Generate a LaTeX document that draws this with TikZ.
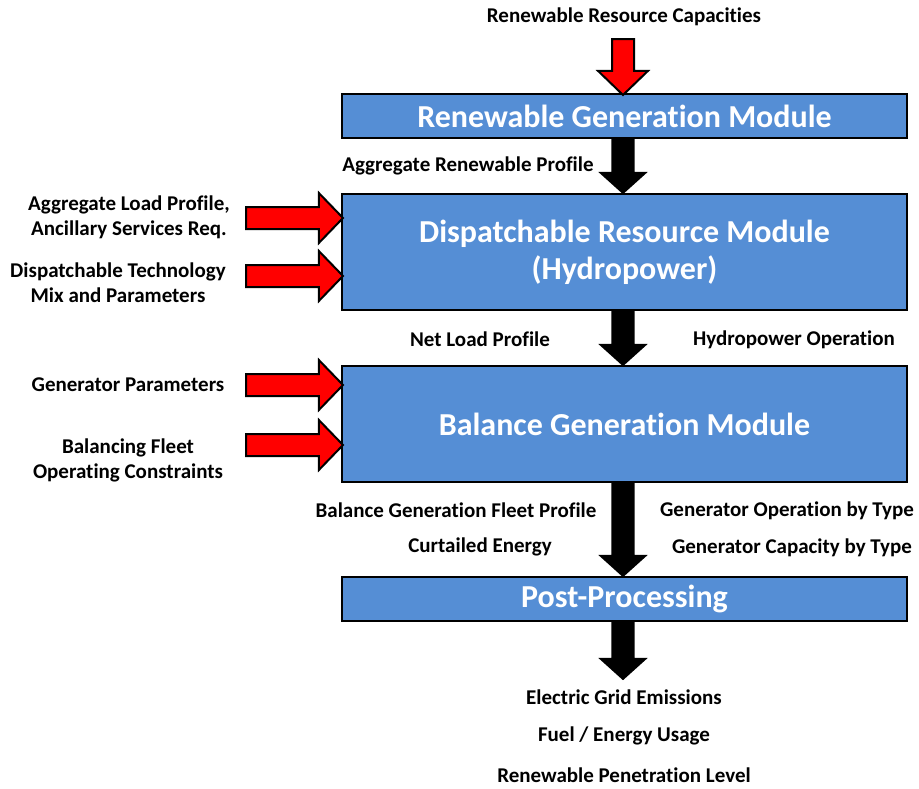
\documentclass[tikz,border=0pt]{standalone}
\usepackage{fontspec}
\setmainfont{Carlito}[Ligatures=NoCommon]
\usetikzlibrary{arrows.meta, positioning, shapes.arrows, calc}

\definecolor{modblue}{RGB}{85,142,213}

\tikzset{
  module/.style={rectangle, draw=black, line width=2.5pt, fill=modblue, minimum width=565pt,
    text=white, font=\fontsize{32}{37}\selectfont\bfseries, align=center, inner sep=0pt, outer sep=0pt},
  lbl/.style={font=\fontsize{21}{25}\selectfont\bfseries, align=center, inner sep=0pt},
  bigarrow/.style={to path={let \p1=(\tikztostart), \p2=(\tikztotarget),
      \n1={veclen(\x2-\x1,\y2-\y1)}, \n2={atan2(\y2-\y1,\x2-\x1)} in
      node[single arrow, inner xsep=0pt, #1, minimum height=\n1, rotate=\n2, anchor=tail] at (\p1) {}}},
  redarrow/.style={bigarrow={fill=red, draw=black, line width=2pt, inner ysep=10pt,
      single arrow head extend=14pt, single arrow tip angle=92}},
  blackarrow/.style={bigarrow={fill=black, draw=none, inner ysep=11.5pt,
      single arrow head extend=13pt, single arrow tip angle=96}},
}

\begin{document}
\begin{tikzpicture}[x=1pt, y=-1pt]
  \useasboundingbox (0,0) rectangle (919,788);

  % modules
  \node[module, minimum height=44pt] (ren) at (624.5,116) {Renewable Generation Module};
  \node[module, minimum height=116pt, below=56pt of ren] (disp) {Dispatchable Resource Module\\(Hydropower)};
  \node[module, minimum height=116pt, below=56pt of disp] (bal) {Balance Generation Module};
  \node[module, minimum height=44pt, below=95pt of bal] (post) {Post-Processing};

  % inputs
  \coordinate (capin) at (623,38);
  \coordinate (loadin) at (245,218);
  \coordinate (techin) at (245,276);
  \coordinate (genin) at (245,385);
  \coordinate (fleetin) at (245,445);
  \coordinate (outtip) at (623,680);

  \node[lbl] (caplbl) at (624,17) {Renewable Resource Capacities};
  \node[lbl] (loadlbl) at (129,217) {Aggregate Load Profile,\\Ancillary Services Req.};
  \node[lbl] (techlbl) at (118,283) {Dispatchable Technology\\Mix and Parameters};
  \node[lbl] (genlbl) at (128,385) {Generator Parameters};
  \node[lbl] (fleetlbl) at (128,460) {Balancing Fleet\\Operating Constraints};

  % flows between modules
  \node[lbl] (aggren) at (468,166) {Aggregate Renewable Profile};
  \node[lbl] (netload) at (480,339) {Net Load Profile};
  \node[lbl] (hydroop) at (794,340) {Hydropower Operation};
  \node[lbl] (balfleet) at (456,510) {Balance Generation Fleet Profile};
  \node[lbl] (curt) at (480,547) {Curtailed Energy};
  \node[lbl] (genop) at (787,511) {Generator Operation by Type};
  \node[lbl] (gencap) at (792,548) {Generator Capacity by Type};

  % outputs
  \node[lbl] (emis) at (624,697) {Electric Grid Emissions};
  \node[lbl] (fuel) at (624,736) {Fuel / Energy Usage};
  \node[lbl] (pen) at (624,775) {Renewable Penetration Level};

  \path[redarrow] (capin) to (capin |- ren.north);
  \path[redarrow] (loadin) to (disp.west |- loadin);
  \path[redarrow] (techin) to (disp.west |- techin);
  \path[redarrow] (genin) to (bal.west |- genin);
  \path[redarrow] (fleetin) to (bal.west |- fleetin);

  \path[blackarrow] (capin |- ren.south) to (capin |- disp.north);
  \path[blackarrow] (capin |- disp.south) to (capin |- bal.north);
  \path[blackarrow] (capin |- bal.south) to (capin |- post.north);
  \path[blackarrow] (capin |- post.south) to (outtip);
\end{tikzpicture}
\end{document}
